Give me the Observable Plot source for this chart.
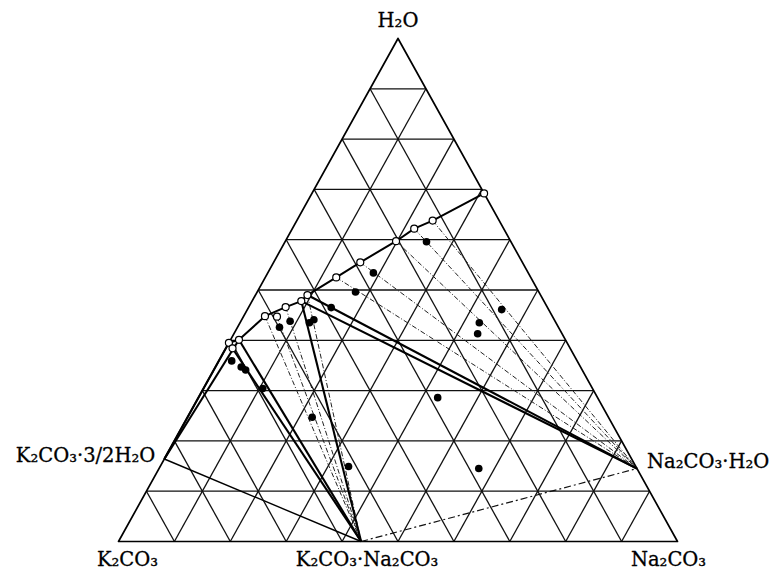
<!DOCTYPE html>
<html>
<head>
<meta charset="utf-8">
<script src="https://cdn.jsdelivr.net/npm/d3@7"></script>
<script src="https://cdn.jsdelivr.net/npm/@observablehq/plot@0.6"></script>
<style>
  html, body { margin: 0; padding: 0; background: #fff; }
  #chart svg { display: block; overflow: visible; }
</style>
</head>
<body>
<div id="chart"></div>
<script>
// ---- data (ternary compositions in wt %: H2O and Na2CO3; K2CO3 is the remainder) ----
const vertexNames = ["H₂O", "K₂CO₃", "Na₂CO₃"];
const vertexH2O = [100, 0, 0];
const vertexNa2CO3 = [0, 0, 100];

const gridLevels = [10, 20, 30, 40, 50, 60, 70, 80, 90];

// saturated solutions (open circles)
const liquidH2O    = [69.2, 63.8, 62.2, 59.7, 55.5, 52.5, 49.0, 47.8, 46.6, 44.7, 44.8, 40.1, 39.5, 38.4];
const liquidNa2CO3 = [30.8, 24.3, 21.8, 19.8, 15.5, 12.7,  9.3,  8.8,  6.6,  6.0,  3.8,  1.5,  0.0,  1.2];
// order of the solubility curve through the solutions
const curveOrder = [12, 11, 10, 8, 7, 6, 5, 4, 3, 2, 1, 0];

// wet residues (filled circles)
const residueH2O    = [59.6, 53.4, 49.6, 46.5, 44.1, 43.5, 43.8, 42.6, 35.9, 34.7, 34.1, 30.4, 24.7, 14.9, 28.6, 14.5, 41.3, 46.1, 43.5];
const residueNa2CO3 = [25.3, 18.9, 17.6, 14.8, 12.9, 12.4,  8.8,  7.5,  2.3,  4.6,  5.7, 10.6, 22.3, 33.7, 42.8, 57.2, 43.6, 45.5, 42.8];

// solid phases
const solidNames   = ["Na₂CO₃·H₂O", "K₂CO₃·Na₂CO₃", "K₂CO₃·3/2H₂O"];
const solidH2O     = [14.5, 0, 16.4];
const solidNa2CO3  = [85.5, 43.4, 0];

// tie lines: [solution index, solid index]
const mainTies = [[6, 0], [7, 0], [7, 1], [11, 1], [12, 1], [11, 2], [12, 2]];
const otherTies = [[6, 1], [1, 0], [2, 0], [3, 0], [4, 0], [5, 0], [8, 1], [9, 1], [10, 1], [13, 1]];
// solid–solid joins: [solid index, solid index]
const solidJoin = [[2, 1]];
const solidJoinDashed = [[1, 0]];

// ---- ternary -> plane (x = Na2CO3 + H2O/2, y = H2O) ----
const tx = (w, n) => n + w / 2;
const seg = (w1, n1, w2, n2) => ({x1: tx(w1, n1), y1: w1, x2: tx(w2, n2), y2: w2});

const gridSegs = [];
for (const c of gridLevels) {
  gridSegs.push(seg(c, 0, c, 100 - c));          // constant H2O
  gridSegs.push(seg(0, c, 100 - c, c));          // constant Na2CO3
  gridSegs.push(seg(0, 100 - c, 100 - c, 0));    // constant K2CO3
}
const frame = [0, 1, 2, 0].map(i => ({x: tx(vertexH2O[i], vertexNa2CO3[i]), y: vertexH2O[i]}));

const liquids = liquidH2O.map((w, i) => ({x: tx(w, liquidNa2CO3[i]), y: w}));
const residues = residueH2O.map((w, i) => ({x: tx(w, residueNa2CO3[i]), y: w}));
const solids = solidH2O.map((w, i) => ({x: tx(w, solidNa2CO3[i]), y: w, name: solidNames[i]}));
const curve = curveOrder.map(i => liquids[i]);
const tie = ([l, s]) => seg(liquidH2O[l], liquidNa2CO3[l], solidH2O[s], solidNa2CO3[s]);
const sjoin = ([a, b]) => seg(solidH2O[a], solidNa2CO3[a], solidH2O[b], solidNa2CO3[b]);

const verts = vertexNames.map((name, i) => ({x: tx(vertexH2O[i], vertexNa2CO3[i]), y: vertexH2O[i], name}));

const font = "'DejaVu Serif', 'Liberation Serif', serif";
const txt = {x: "x", y: "y", text: "name", fontSize: 19.5, fill: "#000", stroke: "#000", strokeWidth: 0.3};

const chart = Plot.plot({
  width: 776,
  height: 571,
  marginLeft: 118,
  marginRight: 99,
  marginTop: 38,
  marginBottom: 30,
  x: {domain: [0, 100], axis: null},
  y: {domain: [0, 100], axis: null},
  style: {background: "#fff", fontFamily: font, overflow: "visible"},
  marks: [
    Plot.link(gridSegs, {x1: "x1", y1: "y1", x2: "x2", y2: "y2", stroke: "#111", strokeWidth: 1.3}),
    Plot.line(frame, {x: "x", y: "y", stroke: "#000", strokeWidth: 1.7}),
    Plot.link(otherTies.map(tie), {x1: "x1", y1: "y1", x2: "x2", y2: "y2", stroke: "#222", strokeWidth: 1, strokeDasharray: "5,2,1,2"}),
    Plot.link(solidJoinDashed.map(sjoin), {x1: "x1", y1: "y1", x2: "x2", y2: "y2", stroke: "#111", strokeWidth: 1.2, strokeDasharray: "7,3,2,3"}),
    Plot.link(solidJoin.map(sjoin), {x1: "x1", y1: "y1", x2: "x2", y2: "y2", stroke: "#000", strokeWidth: 1.4}),
    Plot.link(mainTies.map(tie), {x1: "x1", y1: "y1", x2: "x2", y2: "y2", stroke: "#000", strokeWidth: 2.1}),
    Plot.line(curve, {x: "x", y: "y", stroke: "#000", strokeWidth: 2}),
    Plot.dot(residues, {x: "x", y: "y", r: 3.8, fill: "#000", stroke: "none"}),
    Plot.dot(liquids, {x: "x", y: "y", r: 3.5, fill: "#fff", stroke: "#000", strokeWidth: 1.2}),
    // vertex labels
    Plot.text([verts[0]], {...txt, dy: -18}),
    Plot.text([verts[1]], {...txt, dx: 9, dy: 18}),
    Plot.text([verts[2]], {...txt, dx: -9, dy: 18}),
    // solid phase labels
    Plot.text([solids[0]], {...txt, textAnchor: "start", dx: 10, dy: -7}),
    Plot.text([solids[1]], {...txt, dx: 6, dy: 18}),
    Plot.text([solids[2]], {...txt, textAnchor: "end", dx: -9, dy: -3})
  ]
});
document.getElementById("chart").appendChild(chart);
</script>
</body>
</html>
